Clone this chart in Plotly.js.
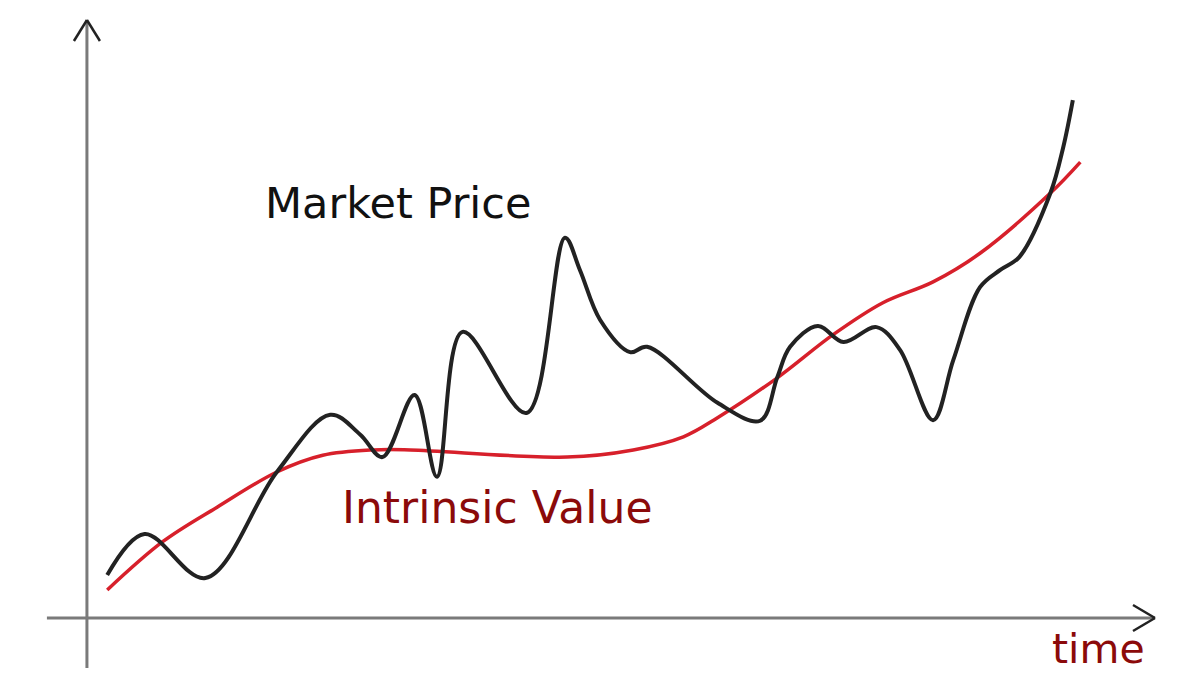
<!DOCTYPE html>
<html>
<head>
<meta charset="utf-8">
<script src="https://cdn.plot.ly/plotly-3.0.1.min.js"></script>
<style>html,body{margin:0;padding:0;background:#fff;}#chart{width:1200px;height:675px;}</style>
</head>
<body>
<div id="chart"></div>
<script>
// Market price (black) – time, value (0..100 abstract units)
const priceTime = [1.8, 5.3, 11.0, 17.7, 22.7, 25.5, 27.6, 30.6, 32.7, 35.1, 41.1, 44.7, 46.1, 48.0, 50.8, 52.4, 59.0, 63.0, 64.6, 65.8, 68.4, 70.8, 73.9, 76.1, 79.2, 81.1, 83.6, 85.5, 87.3, 90.2, 91.4, 92.3];
const priceValue = [7.2, 14.1, 6.7, 24.5, 34.1, 30.8, 27.0, 37.4, 23.7, 48.0, 34.4, 63.8, 58.4, 50.0, 44.6, 45.5, 36.1, 33.1, 40.4, 45.5, 49.0, 46.3, 48.8, 45.0, 33.2, 43.3, 55.5, 58.4, 60.6, 71.3, 79.0, 86.9];
// Intrinsic value (red)
const valueTime = [1.8, 7.0, 12.1, 17.7, 22.0, 26.7, 30.2, 44.9, 51.1, 55.8, 59.0, 64.6, 69.8, 74.5, 79.2, 83.6, 90.2, 93.0];
const valueValue = [4.7, 12.8, 18.6, 24.5, 27.3, 28.2, 28.2, 27.0, 28.2, 30.4, 33.6, 40.3, 47.5, 52.9, 56.4, 61.2, 71.3, 76.5];

const seriesNames = ["Market Price", "Intrinsic Value"];
const axisLabel = "time";

const FONT = "DejaVu Sans, Verdana, sans-serif";
const AXIS_GRAY = "#7a7a7a";
const HEAD = "#222222";

const traces = [
  {x: valueTime, y: valueValue, mode: "lines", name: seriesNames[1],
   line: {color: "#d7202b", width: 3.5, shape: "spline", smoothing: 1}},
  {x: priceTime, y: priceValue, mode: "lines", name: seriesNames[0],
   line: {color: "#222222", width: 4, shape: "spline", smoothing: 1}}
];

const shapes = [
  // y axis line
  {type: "line", xref: "paper", yref: "paper", x0: -0.001, x1: -0.001, y0: -0.084, y1: 1.0,
   line: {color: AXIS_GRAY, width: 3}},
  // x axis line
  {type: "line", xref: "paper", yref: "paper", x0: -0.0385, x1: 1.0, y0: 0, y1: 0,
   line: {color: AXIS_GRAY, width: 3}},
  // y arrow head
  {type: "line", xref: "paper", yref: "paper", xsizemode: "pixel", ysizemode: "pixel",
   xanchor: -0.001, yanchor: 1.0, x0: 0, y0: 2, x1: -13, y1: -19, line: {color: HEAD, width: 2.5}},
  {type: "line", xref: "paper", yref: "paper", xsizemode: "pixel", ysizemode: "pixel",
   xanchor: -0.001, yanchor: 1.0, x0: 0, y0: 2, x1: 13, y1: -19, line: {color: HEAD, width: 2.5}},
  // x arrow head
  {type: "line", xref: "paper", yref: "paper", xsizemode: "pixel", ysizemode: "pixel",
   xanchor: 1.0, yanchor: 0, x0: 0, y0: 0, x1: -22, y1: 13, line: {color: HEAD, width: 2.5}},
  {type: "line", xref: "paper", yref: "paper", xsizemode: "pixel", ysizemode: "pixel",
   xanchor: 1.0, yanchor: 0, x0: 0, y0: 0, x1: -22, y1: -13, line: {color: HEAD, width: 2.5}}
];

const annotations = [
  {x: 29.05, y: 69.6, xref: "x", yref: "y", text: seriesNames[0], showarrow: false,
   xanchor: "center", yanchor: "middle", font: {family: FONT, size: 43, color: "#111111"}},
  {x: 38.3, y: 18.5, xref: "x", yref: "y", text: seriesNames[1], showarrow: false,
   xanchor: "center", yanchor: "middle", font: {family: FONT, size: 44, color: "#8b0a0a"}},
  {x: 0.9475, y: -0.0955, xref: "paper", yref: "paper", text: axisLabel, showarrow: false,
   xanchor: "center", yanchor: "bottom", font: {family: FONT, size: 41, color: "#8b0a0a"}}
];

const layout = {
  width: 1200, height: 675,
  margin: {l: 88, r: 45, t: 22, b: 57},
  paper_bgcolor: "#ffffff", plot_bgcolor: "#ffffff",
  showlegend: false,
  xaxis: {range: [0, 100], showgrid: false, zeroline: false, showline: false, showticklabels: false, ticks: ""},
  yaxis: {range: [0, 100], showgrid: false, zeroline: false, showline: false, showticklabels: false, ticks: ""},
  shapes: shapes,
  annotations: annotations
};

Plotly.newPlot("chart", traces, layout, {displayModeBar: false, staticPlot: true});
</script>
</body>
</html>
